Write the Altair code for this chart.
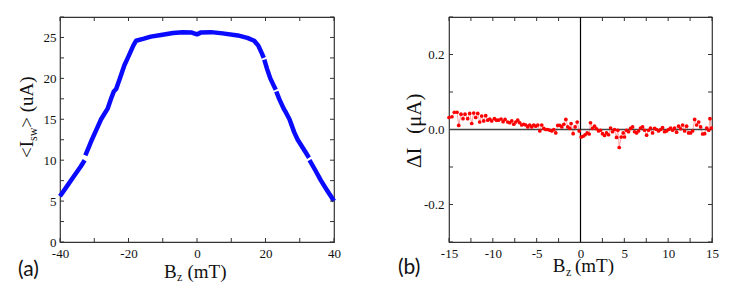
import altair as alt
import pandas as pd

# ---------------- Panel (a): <I_sw> vs B_z ----------------
a_field = [-40, -38, -36, -34, -32.8,
           -32.6, -31.5, -30.7, -29.4, -28.0, -26.1, -25.1, -24.3, -23.6, -22.5,
           -21.2, -20.2, -18.6, -17.8, -15.5, -13.5, -10.5, -7, -4.2, -1.5,
           0, 1.2, 4.1, 7.5, 11.9, 14.7, 16.7, 17.9, 19.0, 19.5,
           19.65, 20.5, 21.4, 22.3, 23.0,
           23.15, 24.0, 25.3, 26.0, 27.0, 28.4, 29.4, 30.6, 31.8, 32.7,
           32.85, 34.5, 36.2, 38, 40]
a_current = [5.6, 6.8, 8.0, 9.2, 10.0,
             10.6, 11.7, 12.5, 13.7, 15.0, 16.3, 17.5, 18.4, 18.7, 20.0,
             21.6, 22.5, 24.0, 24.6, 24.85, 25.1, 25.3, 25.55, 25.65, 25.6,
             25.38, 25.62, 25.65, 25.5, 25.25, 24.95, 24.6, 24.0, 23.0, 22.5,
             22.3, 21.1, 20.0, 19.2, 18.6,
             18.4, 17.5, 16.3, 15.8, 15.0, 13.4, 12.5, 11.7, 10.9, 10.3,
             10.0, 8.8, 7.5, 6.3, 5.0]
a_segment = [1] * 5 + [2] * 30 + [3] * 5 + [4] * 10 + [5] * 5

a_x_labels = [-40, -20, 0, 20, 40]
a_x_ticks = [-40, -30, -20, -10, 0, 10, 20, 30, 40]
a_y_labels = [0, 5, 10, 15, 20, 25]
a_y_ticks = [0, 2.5, 5, 7.5, 10, 12.5, 15, 17.5, 20, 22.5, 25, 27.5]

# ---------------- Panel (b): Delta I vs B_z ----------------
b_field = [-15.00, -14.66, -14.39, -14.08, -13.89, -13.63, -13.40, -13.17, -12.87, -12.64,
           -12.41, -12.18, -11.95, -11.72, -11.50, -11.27, -11.04, -10.81, -10.58, -10.35,
           -10.13, -9.82, -9.59, -9.36, -9.06, -8.83, -8.60, -8.30, -8.07, -7.84,
           -7.61, -7.38, -7.16, -6.93, -6.70, -6.47, -6.24, -6.01, -5.79, -5.56,
           -5.33, -5.10, -4.87, -4.64, -4.42, -4.19, -3.96, -3.73, -3.50, -3.27,
           -3.05, -2.82, -2.59, -2.36, -2.13, -1.90, -1.67, -1.45, -1.22, -1.07,
           -0.84, -0.61, -0.38, -0.15, 0.08, 0.30, 0.53, 0.76, 0.99, 1.14,
           1.37, 1.60, 1.83, 2.06, 2.28, 2.51, 2.74, 2.97, 3.20, 3.43,
           3.65, 3.88, 4.11, 4.26, 4.42, 4.64, 4.87, 5.02, 5.25, 5.48,
           5.71, 5.94, 6.17, 6.40, 6.62, 6.85, 7.08, 7.31, 7.54, 7.77,
           7.99, 8.22, 8.45, 8.68, 8.91, 9.14, 9.36, 9.59, 9.82, 10.05,
           10.28, 10.51, 10.73, 10.96, 11.19, 11.42, 11.65, 11.88, 12.10, 12.33,
           12.56, 12.79, 13.02, 13.25, 13.48, 13.70, 13.93, 14.16, 14.39, 14.62,
           14.77, 14.92]
b_delta = [0.032, 0.034, 0.046, 0.046, 0.011, 0.041, 0.029, 0.041, 0.029, 0.043,
           0.016, 0.044, 0.032, 0.043, 0.020, 0.036, 0.023, 0.037, 0.025, 0.028,
           0.023, 0.029, 0.025, 0.025, 0.028, 0.021, 0.027, 0.020, 0.018, 0.023,
           0.014, 0.020, 0.025, 0.018, 0.012, 0.014, 0.012, 0.007, 0.012, 0.007,
           0.012, 0.009, 0.012, -0.004, 0.012, 0.003, 0.000, 0.000, -0.002, -0.004,
           0.000, -0.009, 0.011, 0.011, 0.007, 0.014, 0.027, 0.007, 0.003, 0.016,
           -0.011, 0.007, 0.020, -0.004, -0.020, -0.018, -0.014, -0.009, -0.012, 0.018,
           0.003, 0.009, 0.002, -0.004, -0.002, -0.011, -0.016, -0.009, -0.014, 0.004,
           -0.006, 0.000, -0.021, -0.002, -0.048, -0.020, -0.009, -0.020, -0.002, -0.006,
           0.003, 0.007, -0.006, -0.009, -0.004, 0.004, 0.007, -0.002, -0.015, -0.002,
           0.004, -0.009, 0.003, 0.000, -0.004, 0.000, 0.005, -0.006, -0.004, 0.000,
           0.004, -0.002, 0.004, -0.007, 0.009, 0.002, 0.012, -0.004, 0.009, -0.009,
           -0.009, -0.004, 0.027, 0.012, 0.020, 0.007, -0.012, -0.011, 0.004, -0.002,
           0.029, 0.004]

b_x_labels = [-15, -10, -5, 0, 5, 10, 15]
b_x_ticks = [-15, -12.5, -10, -7.5, -5, -2.5, 0, 2.5, 5, 7.5, 10, 12.5, 15]
b_y_labels = [-0.2, 0.0, 0.2]
b_y_ticks = [-0.3, -0.2, -0.1, 0.0, 0.1, 0.2, 0.3]
b_zero = [0]

# ---------------- styling helpers ----------------
SERIF = "Liberation Serif"
AXC = "#333333"
AW, AH = 274, 225
BW, BH = 263, 225
TL = 4  # inward tick length

df_a = pd.DataFrame({"B": a_field, "I": a_current, "seg": a_segment})
df_b = pd.DataFrame({"B": b_field, "dI": b_delta})
one = pd.DataFrame({"k": [0]})


def label_axis(orient, values, expr, pad):
    return alt.Axis(orient=orient, values=values, labels=True, ticks=False, domain=False,
                    labelFont=SERIF, labelFontSize=13, labelColor="#111111",
                    labelPadding=pad, labelFlush=False, labelOverlap=False,
                    labelExpr=expr, title=None, grid=False)


int_expr = "datum.value < 0 ? '-' + format(-datum.value, 'd') : format(datum.value, 'd')"
dec_expr = "datum.value < 0 ? '-' + format(-datum.value, '.1f') : format(datum.value, '.1f')"


def inward_ticks(xvals, yvals, xs, ys, W, H):
    dx = pd.DataFrame({"v": xvals})
    dy = pd.DataFrame({"v": yvals})
    base_x = alt.Chart(dx).mark_rule(color=AXC, strokeWidth=1)
    base_y = alt.Chart(dy).mark_rule(color=AXC, strokeWidth=1)
    xe = alt.X("v:Q", scale=xs, axis=None)
    ye = alt.Y("v:Q", scale=ys, axis=None)
    return [
        base_x.encode(x=xe, y=alt.value(0), y2=alt.value(TL)),
        base_x.encode(x=xe, y=alt.value(H - TL), y2=alt.value(H)),
        base_y.encode(y=ye, x=alt.value(0), x2=alt.value(TL)),
        base_y.encode(y=ye, x=alt.value(W - TL), x2=alt.value(W)),
    ]


def txt(s, x, y, size=19, font=SERIF, angle=0, align="left", baseline="alphabetic"):
    return alt.Chart(one).mark_text(text=s, font=font, fontSize=size, angle=angle,
                                    align=align, baseline=baseline, color="#111111").encode(
        x=alt.value(x), y=alt.value(y))


# ---------------- Panel (a) ----------------
xa = alt.Scale(domain=[-40, 40], nice=False, zero=False)
ya = alt.Scale(domain=[0, 27.5], nice=False, zero=False)

line_a = alt.Chart(df_a).mark_line(color="#0a0aff", strokeWidth=4.5, strokeCap="butt",
                                   strokeJoin="round").encode(
    x=alt.X("B:Q", scale=xa, axis=label_axis("bottom", a_x_labels, int_expr, 5)),
    y=alt.Y("I:Q", scale=ya, axis=label_axis("left", a_y_labels, int_expr, 4)),
    detail="seg:N")

bound_a = alt.Chart(one).mark_rule(strokeOpacity=0, strokeWidth=1).encode(
    x=alt.value(-50.5), y=alt.value(-8), y2=alt.value(262))

panel_a = alt.layer(
    line_a,
    *inward_ticks(a_x_ticks, a_y_ticks, xa, ya, AW, AH),
    txt("<I", -26.7, 141, angle=270),
    txt("sw", -23.5, 124, size=12, angle=270),
    txt("> (uA)", -26.7, 110.7, angle=270),
    txt("B", 104, 260.5),
    txt("z", 117, 264, size=12),
    txt("(mT)", 127.5, 260.5),
    txt("(a)", -42, 259, size=21, font="Lato"),
    bound_a,
).resolve_axis(x="independent", y="independent").properties(width=AW, height=AH)

# ---------------- Panel (b) ----------------
xb = alt.Scale(domain=[-15, 15], nice=False, zero=False)
yb = alt.Scale(domain=[-0.3, 0.3], nice=False, zero=False)

hline_b = alt.Chart(pd.DataFrame({"z": b_zero})).mark_rule(color="#444444", strokeWidth=1.5).encode(
    y=alt.Y("z:Q", scale=yb, axis=None))
vline_b = alt.Chart(pd.DataFrame({"z": b_zero})).mark_rule(color="#000000", strokeWidth=1.2).encode(
    x=alt.X("z:Q", scale=xb, axis=None))

line_b = alt.Chart(df_b).mark_line(color="#ff8c8c", strokeWidth=0.8).encode(
    x=alt.X("B:Q", scale=xb, axis=label_axis("bottom", b_x_labels, int_expr, 5)),
    y=alt.Y("dI:Q", scale=yb, axis=label_axis("left", b_y_labels, dec_expr, 5)))
pts_b = alt.Chart(df_b).mark_circle(color="#ff0000", size=14, opacity=1).encode(
    x=alt.X("B:Q", scale=xb, axis=None),
    y=alt.Y("dI:Q", scale=yb, axis=None))

panel_b = alt.layer(
    line_b,
    *inward_ticks(b_x_ticks, b_y_ticks, xb, yb, BW, BH),
    hline_b, vline_b, pts_b,
    txt("ΔI", -28, 151, size=21, angle=270),
    txt("(μA)", -28, 117, size=21, angle=270),
    txt("B", 103.7, 255),
    txt("z", 117, 259, size=12),
    txt("(mT)", 126, 255),
    txt("(b)", -51, 256.5, size=21, font="Lato"),
).resolve_axis(x="independent", y="independent").properties(width=BW, height=BH)

chart = alt.hconcat(panel_a, panel_b, spacing=115, bounds="flush").properties(
    padding={"left": 0, "top": 0, "right": 4, "bottom": 4}
).configure_view(stroke=AXC, strokeWidth=1.2)

chart.save("out.html", embed_options={"renderer": "svg", "actions": False})
